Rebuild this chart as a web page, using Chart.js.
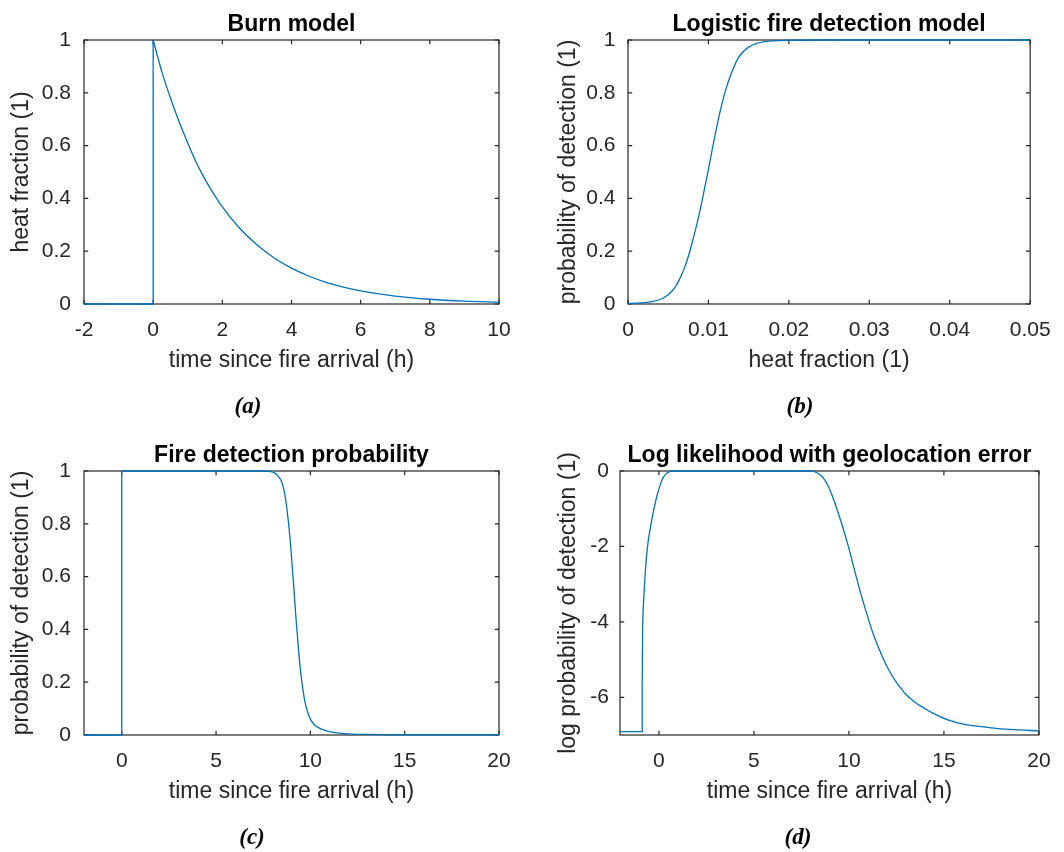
<!DOCTYPE html>
<html><head><meta charset="utf-8">
<script src="https://cdn.jsdelivr.net/npm/chart.js@4/dist/chart.umd.min.js"></script>
<style>
html,body{margin:0;padding:0;background:#fff;}
#wrap{position:relative;width:1064px;height:852px;overflow:hidden;background:#fff;}
.pane{position:absolute;width:532px;height:426px;}
.cap{position:absolute;font-family:"Liberation Serif","DejaVu Serif",serif;font-weight:bold;font-style:italic;font-size:23px;color:#000;transform:translate(-50%,-50%);white-space:nowrap;line-height:1;}
</style></head><body>
<div id="wrap">
<canvas id="pa" class="pane" width="532" height="426" style="left:0;top:0"></canvas>
<canvas id="pb" class="pane" width="532" height="426" style="left:532px;top:0"></canvas>
<canvas id="pc" class="pane" width="532" height="426" style="left:0;top:426px"></canvas>
<canvas id="pd" class="pane" width="532" height="426" style="left:532px;top:426px"></canvas>
<div class="cap" style="left:248px;top:405px">(a)</div>
<div class="cap" style="left:800px;top:405px">(b)</div>
<div class="cap" style="left:252px;top:836px">(c)</div>
<div class="cap" style="left:798px;top:836px">(d)</div>
</div>
<script>
// ---------- data ----------
// (a) Burn model
const burnStepT = [-2, 0, 0];
const burnStepHeat = [0, 0, 1];
const burnT = [0, 0.25, 0.5, 0.75, 1, 1.25, 1.5, 1.75, 2, 2.5, 3, 3.5, 4, 4.5, 5, 5.5, 6, 7, 8, 9, 10];
const burnHeat = [1, 0.88, 0.78, 0.69, 0.61, 0.535, 0.472, 0.417, 0.368, 0.287, 0.224, 0.174, 0.136, 0.106, 0.082, 0.064, 0.05, 0.03, 0.018, 0.011, 0.007];
const burnXTicks = [-2, 0, 2, 4, 6, 8, 10];
const burnXLabels = ['-2', '0', '2', '4', '6', '8', '10'];
const probYTicks = [0, 0.2, 0.4, 0.6, 0.8, 1];
const probYLabels = ['0', '0.2', '0.4', '0.6', '0.8', '1'];

// (b) Logistic fire detection model
const logiHeat = [0, 0.001, 0.002, 0.003, 0.004, 0.005, 0.0055, 0.006, 0.0065, 0.007, 0.0075, 0.008, 0.0085, 0.009, 0.0095, 0.01, 0.0105, 0.011, 0.0115, 0.012, 0.0125, 0.013, 0.0135, 0.014, 0.015, 0.016, 0.017, 0.018, 0.02, 0.025, 0.05];
const logiProb = [0.0017, 0.003, 0.005, 0.009, 0.017, 0.035, 0.05, 0.07, 0.1, 0.135, 0.18, 0.235, 0.295, 0.36, 0.435, 0.51, 0.59, 0.665, 0.735, 0.795, 0.845, 0.885, 0.92, 0.945, 0.973, 0.987, 0.994, 0.997, 0.999, 1, 1];
const logiXTicks = [0, 0.01, 0.02, 0.03, 0.04, 0.05];
const logiXLabels = ['0', '0.01', '0.02', '0.03', '0.04', '0.05'];

// (c) Fire detection probability
const detStepT = [-2, 0, 0];
const detStepP = [0, 0, 1];
const detT = [0, 7.5, 7.9, 8.1, 8.3, 8.5, 8.65, 8.8, 8.95, 9.1, 9.25, 9.4, 9.55, 9.7, 9.85, 10.0, 10.2, 10.5, 10.9, 11.4, 12, 13, 15, 20];
const detP = [1, 1, 0.998, 0.993, 0.98, 0.955, 0.91, 0.83, 0.72, 0.58, 0.43, 0.3, 0.2, 0.13, 0.088, 0.06, 0.04, 0.025, 0.015, 0.008, 0.004, 0.002, 0.001, 0.001];
const timeXTicks = [0, 5, 10, 15, 20];
const timeXLabels = ['0', '5', '10', '15', '20'];

// (d) Log likelihood with geolocation error
const llStepT = [-2.05, -0.88, -0.88];
const llStepV = [-6.91, -6.91, -5.6];
const llT = [-0.88, -0.86, -0.8, -0.72, -0.6, -0.45, -0.3, -0.1, 0.05, 0.2, 0.38, 0.6, 0.8, 8.0, 8.3, 8.6, 8.93, 9.28, 9.62, 9.97, 10.32, 10.67, 11.02, 11.3, 11.54, 11.8, 12.07, 12.6, 13.0, 13.47, 14.0, 14.34, 15.21, 16.08, 16.95, 17.83, 18.7, 20];
const llV = [-5.6, -4.3, -3.4, -2.7, -2.0, -1.5, -1.1, -0.65, -0.4, -0.2, -0.07, -0.01, 0, 0, -0.04, -0.15, -0.42, -0.88, -1.4, -2.0, -2.68, -3.33, -3.92, -4.35, -4.66, -4.97, -5.25, -5.68, -5.92, -6.13, -6.3, -6.4, -6.6, -6.72, -6.78, -6.83, -6.86, -6.89];
const llYTicks = [-6, -4, -2, 0];
const llYLabels = ['-6', '-4', '-2', '0'];

// ---------- styling ----------
const FONT = '"Liberation Sans", Arial, Helvetica, sans-serif';
const TXT = '#262626';
const LINE = '#0072BD';

function pts(xs, ys) { return xs.map((x, i) => ({ x: x, y: ys[i] })); }
function stepSet(xs, ys) {
  return { data: pts(xs, ys), borderColor: LINE, borderWidth: 1.3, pointRadius: 0, tension: 0, clip: 4, fill: false };
}
function smoothSet(xs, ys) {
  return { data: pts(xs, ys), borderColor: LINE, borderWidth: 1.3, pointRadius: 0, cubicInterpolationMode: 'monotone', clip: 4, fill: false };
}

const boxPlugin = {
  id: 'matlabBox',
  beforeDatasetsDraw(chart) {
    const { ctx, chartArea: a, scales: { x, y } } = chart;
    const L = 4.2;
    ctx.save();
    ctx.strokeStyle = TXT;
    ctx.lineWidth = 1.2;
    ctx.strokeRect(a.left, a.top, a.right - a.left, a.bottom - a.top);
    ctx.beginPath();
    x.ticks.forEach(t => {
      const p = x.getPixelForValue(t.value);
      ctx.moveTo(p, a.bottom); ctx.lineTo(p, a.bottom - L);
      ctx.moveTo(p, a.top); ctx.lineTo(p, a.top + L);
    });
    y.ticks.forEach(t => {
      const p = y.getPixelForValue(t.value);
      ctx.moveTo(a.left, p); ctx.lineTo(a.left + L, p);
      ctx.moveTo(a.right, p); ctx.lineTo(a.right - L, p);
    });
    ctx.stroke();
    ctx.restore();
  }
};

function makePanel(id, c) {
  new Chart(document.getElementById(id), {
    type: 'line',
    data: { datasets: c.datasets },
    options: {
      responsive: false, animation: false, devicePixelRatio: 1, events: [],
      layout: { padding: { left: 0, top: 0, right: c.padRight, bottom: 0 } },
      plugins: {
        legend: { display: false }, tooltip: { enabled: false },
        title: {
          display: true, text: c.title, fullSize: false, color: '#000',
          font: { family: FONT, size: 23, weight: 'bold', lineHeight: 1.2 },
          padding: { top: c.titleTop, bottom: c.titleBottom }
        }
      },
      scales: {
        x: {
          type: 'linear', min: c.xMin, max: c.xMax,
          afterBuildTicks: s => { s.ticks = c.xTicks.map(v => ({ value: v })); },
          afterFit: s => { s.height = c.xAxisH; },
          grid: { display: false, drawTicks: false }, border: { display: false },
          ticks: {
            autoSkip: false, maxRotation: 0, minRotation: 0, padding: 13.4, color: TXT,
            font: { family: FONT, size: 21 },
            callback: v => c.xLabels[c.xTicks.indexOf(v)]
          },
          title: { display: true, text: c.xTitle, color: TXT, font: { family: FONT, size: 23, lineHeight: 1.2 }, padding: { top: 0, bottom: c.xTitlePad } }
        },
        y: {
          type: 'linear', min: c.yMin, max: c.yMax,
          afterBuildTicks: s => { s.ticks = c.yTicks.map(v => ({ value: v })); },
          afterFit: s => { s.width = c.yAxisW; },
          grid: { display: false, drawTicks: false }, border: { display: false },
          ticks: {
            autoSkip: false, padding: c.yTickPad, color: TXT,
            font: { family: FONT, size: 21 },
            callback: v => c.yLabels[c.yTicks.indexOf(v)]
          },
          title: { display: true, text: c.yTitle, color: TXT, font: { family: FONT, size: 23, lineHeight: 1.2 }, padding: { top: c.yTitlePad, bottom: 0 } }
        }
      }
    },
    plugins: [boxPlugin]
  });
}

makePanel('pa', {
  title: 'Burn model', xTitle: 'time since fire arrival (h)', yTitle: 'heat fraction (1)',
  datasets: [stepSet(burnStepT, burnStepHeat), smoothSet(burnT, burnHeat)],
  xMin: -2, xMax: 10, yMin: 0, yMax: 1,
  xTicks: burnXTicks, xLabels: burnXLabels, yTicks: probYTicks, yLabels: probYLabels,
  padRight: 33, yAxisW: 84, xAxisH: 122, titleTop: 10.5, titleBottom: 1.9, xTitlePad: 51.9, yTitlePad: 8.2, yTickPad: 13
});
makePanel('pb', {
  title: 'Logistic fire detection model', xTitle: 'heat fraction (1)', yTitle: 'probability of detection (1)',
  datasets: [smoothSet(logiHeat, logiProb)],
  xMin: 0, xMax: 0.05, yMin: 0, yMax: 1,
  xTicks: logiXTicks, xLabels: logiXLabels, yTicks: probYTicks, yLabels: probYLabels,
  padRight: 23, yAxisW: 96, xAxisH: 122, titleTop: 10.5, titleBottom: 1.9, xTitlePad: 51.9, yTitlePad: 23.2, yTickPad: 12.5
});
makePanel('pc', {
  title: 'Fire detection probability', xTitle: 'time since fire arrival (h)', yTitle: 'probability of detection (1)',
  datasets: [stepSet(detStepT, detStepP), smoothSet(detT, detP)],
  xMin: -2, xMax: 20, yMin: 0, yMax: 1,
  xTicks: timeXTicks, xLabels: timeXLabels, yTicks: probYTicks, yLabels: probYLabels,
  padRight: 33, yAxisW: 84, xAxisH: 117, titleTop: 15.5, titleBottom: 1.9, xTitlePad: 46.9, yTitlePad: 8.2, yTickPad: 13
});
makePanel('pd', {
  title: 'Log likelihood with geolocation error', xTitle: 'time since fire arrival (h)', yTitle: 'log probability of detection (1)',
  datasets: [stepSet(llStepT, llStepV), smoothSet(llT, llV)],
  xMin: -2.05, xMax: 20, yMin: -7, yMax: 0,
  xTicks: timeXTicks, xLabels: timeXLabels, yTicks: llYTicks, yLabels: llYLabels,
  padRight: 22, yAxisW: 88, xAxisH: 117, titleTop: 15.5, titleBottom: 1.9, xTitlePad: 46.9, yTitlePad: 23.2, yTickPad: 11
});
</script>
</body></html>
